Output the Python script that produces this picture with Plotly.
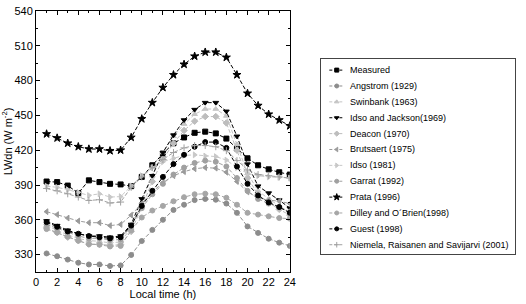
import plotly.graph_objects as go

hours = list(range(1, 25))

measured = [393, 392.5, 389.5, 383, 394, 392.5, 391, 390.5, 389, 397, 407, 417, 426, 431, 435, 436, 434.5, 430, 421.5, 413, 407, 403.5, 401, 399]
angstrom = [331, 328.6, 325.7, 323, 321.5, 321.5, 320.2, 320.7, 329.7, 341.7, 351.3, 360, 368.5, 373, 377, 378, 377.3, 374, 366, 354.3, 348.7, 343.7, 340.3, 337.5]
swinbank = [355, 351, 347, 344, 342, 341.5, 340, 341, 353, 375, 398, 418, 432, 442.5, 451, 455.5, 455.5, 449.5, 425, 400, 385, 378, 372, 366]
idso_jackson = [359, 355, 351, 348, 346, 346, 345, 346, 356, 378, 398, 418, 433, 446, 455, 461, 461, 453.5, 432, 408, 389, 383, 377, 370]
deacon = [353, 349, 345, 342, 339, 339, 338, 338.5, 350, 371, 393, 412, 426, 437, 445, 449, 449, 443.5, 420, 396, 382, 375, 369, 364]
brutsaert = [367, 364.5, 361.5, 359, 357.5, 357.5, 355, 356, 364, 374, 384, 392, 398, 401.5, 404, 405, 404.5, 401, 393, 384, 379, 377, 376, 374]
idso1981 = [389, 388, 386, 383.7, 381, 382.4, 379.6, 380, 389.3, 398, 405, 410, 413, 415.5, 416, 415, 414.5, 411.5, 405, 400, 398, 397, 396.5, 396]
garrat = [356, 352.5, 349, 346, 344, 344, 342.5, 343, 355, 370, 382, 391, 399, 405, 409, 411, 410, 406, 396, 385, 378, 374, 371, 367]
prata = [434, 430.5, 426, 423, 421, 421, 419.5, 420, 431, 447, 461, 474, 485, 494, 501, 504.5, 504.5, 500, 485, 469, 458.5, 451, 446, 441]
dilley = [352, 349, 345.5, 342, 339, 338.5, 337, 337.5, 351, 362, 368, 372, 376, 379.5, 382, 382.5, 382, 379, 373, 366, 364.5, 363, 361.5, 361]
guest = [358, 354, 350, 348, 346, 345, 344, 345, 355, 372, 385, 397, 408, 416, 423, 427, 427, 422, 406, 391, 381, 375, 371, 366]
niemela = [387, 385, 382.4, 379.6, 376.7, 377.3, 374.5, 375.3, 388, 397, 405, 412, 418, 422, 424, 424, 423, 419.6, 411, 403, 399, 398, 397, 396]

x_ticks = list(range(0, 25, 2))
y_ticks = list(range(330, 541, 30))

series = [
    ("Measured", measured, "#000000", "square"),
    ("Angstrom (1929)", angstrom, "#8c8c8c", "circle"),
    ("Swinbank (1963)", swinbank, "#c4c4c4", "triangle-up"),
    ("Idso and Jackson(1969)", idso_jackson, "#000000", "triangle-down"),
    ("Deacon (1970)", deacon, "#bdbdbd", "diamond"),
    ("Brutsaert (1975)", brutsaert, "#9a9a9a", "triangle-left"),
    ("Idso (1981)", idso1981, "#c8c8c8", "triangle-right"),
    ("Garrat (1992)", garrat, "#a0a0a0", "circle"),
    ("Prata (1996)", prata, "#000000", "star"),
    ("Dilley and O´Brien(1998)", dilley, "#a6a6a6", "circle"),
    ("Guest (1998)", guest, "#000000", "circle"),
    ("Niemela, Raisanen and Savijarvi (2001)", niemela, "#a0a0a0", "cross-thin-open"),
]

FONT = "Liberation Sans, Arial"
DASH = "4px,2px"

fig = go.Figure()
for name, vals, col, sym in series:
    fig.add_trace(go.Scatter(
        x=hours, y=vals, name=name, mode="lines+markers", showlegend=False,
        line=dict(color=col, width=1, dash=DASH),
        marker=dict(symbol=sym, size=5 if sym != "star" else 6, color=col,
                    line=dict(color=col, width=1)),
        xaxis="x", yaxis="y",
    ))

# hand-built legend box (rows in legend-axis pixel units)
row0, row_step = 11.7, 16.3
annotations = []
for i, (name, vals, col, sym) in enumerate(series):
    ry = row0 + i * row_step
    fig.add_trace(go.Scatter(
        x=[8, 15.5, 23], y=[ry, ry, ry], mode="lines", showlegend=False,
        line=dict(color=col, width=1, dash="3px,2px"), hoverinfo="skip",
        xaxis="x2", yaxis="y2",
    ))
    fig.add_trace(go.Scatter(
        x=[15.5], y=[ry], mode="markers", showlegend=False,
        marker=dict(symbol=sym, size=4 if sym != "star" else 5, color=col,
                    line=dict(color=col, width=1)),
        hoverinfo="skip", xaxis="x2", yaxis="y2",
    ))
    annotations.append(dict(
        x=27, y=ry, xref="x2", yref="y2", text=name, showarrow=False,
        xanchor="left", yanchor="middle",
        font=dict(family=FONT, size=9, color="#000000"),
    ))

axis_common = dict(
    showline=True, linecolor="#000000", linewidth=1, mirror="allticks",
    ticks="inside", ticklen=4, tickcolor="#000000", showgrid=False, zeroline=False,
    ticklabeloverflow="allow",
    tickfont=dict(family=FONT, size=11, color="#000000"),
)

fig.update_layout(
    width=526, height=304,
    margin=dict(l=36, r=5, t=6, b=30),
    paper_bgcolor="#ffffff", plot_bgcolor="#ffffff",
    font=dict(family=FONT, color="#000000"),
    showlegend=False,
    hovermode=False,
    annotations=annotations,
    xaxis=dict(domain=[0, 257 / 485], range=[0, 24], tickvals=x_ticks,
               minor=dict(ticks="inside", ticklen=2, dtick=1, tickcolor="#000000"),
               title=dict(text="Local time (h)", font=dict(size=11), standoff=3),
               anchor="y", **axis_common),
    yaxis=dict(domain=[0, 1], range=[315, 540], tickvals=y_ticks,
               minor=dict(ticks="inside", ticklen=2, dtick=15, tick0=315, tickcolor="#000000"),
               title=dict(text="LWdn (W m<sup>-2</sup>)", font=dict(size=11), standoff=1),
               anchor="x", **axis_common),
    xaxis2=dict(domain=[(325 - 36) / 485, (521 - 36) / 485], range=[0, 196],
                showline=True, mirror=True, linecolor="#444444", linewidth=1,
                showticklabels=False, ticks="", showgrid=False, zeroline=False,
                anchor="y2", fixedrange=True),
    yaxis2=dict(domain=[(274 - 256) / 268, (274 - 55) / 268], range=[201, 0],
                showline=True, mirror=True, linecolor="#444444", linewidth=1,
                showticklabels=False, ticks="", showgrid=False, zeroline=False,
                anchor="x2", fixedrange=True),
)

fig.write_html(
    "out.html",
    config={"displayModeBar": False, "staticPlot": True},
    post_script="document.body.style.margin='0';document.body.style.overflow='hidden';",
)
